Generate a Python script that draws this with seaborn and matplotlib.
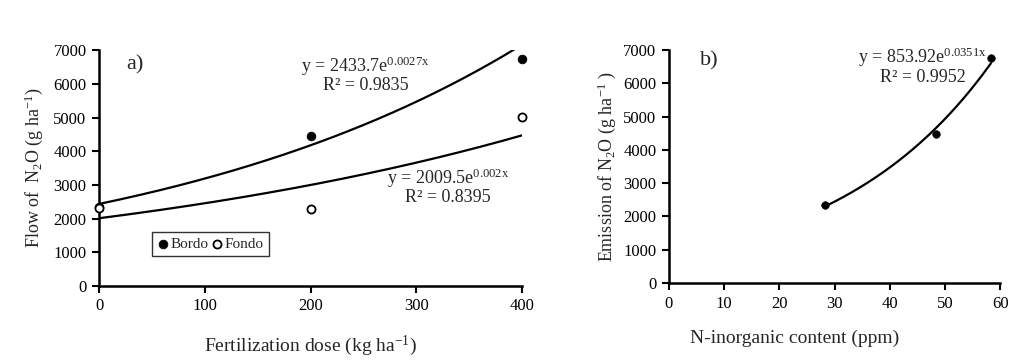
import numpy as np
import pandas as pd
import seaborn as sns
import matplotlib.pyplot as plt

# panel a) data
dose = [0, 200, 400]
bordo = [2350, 4450, 6750]
fondo = [2300, 2280, 5020]
# exponential trend coefficients as printed on the chart
bordo_fit = (2433.7, 0.0027)
fondo_fit = (2009.5, 0.002)

# panel b) data
n_inorg = [28.3, 48.3, 58.3]
emission = [2350, 4480, 6770]
emis_fit = (853.92, 0.0351)

sns.set_style('ticks')
plt.rcParams['font.family'] = ['Liberation Serif', 'DejaVu Serif']
plt.rcParams['mathtext.fontset'] = 'custom'
plt.rcParams['mathtext.rm'] = 'Liberation Serif'
plt.rcParams['mathtext.default'] = 'regular'
plt.rcParams['font.size'] = 12

fig = plt.figure(figsize=(10.26, 3.61), dpi=100)
ax1 = fig.add_axes([0.0965, 0.208, 0.4125, 0.653])
ax2 = fig.add_axes([0.652, 0.216, 0.323, 0.645])


def trend(a, b, x0, x1):
    xs = np.linspace(x0, x1, 200)
    return pd.DataFrame({'x': xs, 'y': a * np.exp(b * xs)})


# ---- panel a
t1 = trend(*bordo_fit, 0, 400)
t2 = trend(*fondo_fit, 0, 400)
sns.lineplot(data=t1, x='x', y='y', ax=ax1, color='black', lw=1.6)
sns.lineplot(data=t2, x='x', y='y', ax=ax1, color='black', lw=1.6)
sns.scatterplot(x=dose, y=bordo, ax=ax1, color='black', s=40, edgecolor='black',
                label='Bordo', zorder=5, clip_on=False)
sns.scatterplot(x=dose, y=fondo, ax=ax1, color='white', s=34, edgecolor='black',
                linewidth=1.3, label='Fondo', zorder=6, clip_on=False)
ax1.set_xlim(0, 400)
ax1.set_ylim(0, 7000)
ax1.set_xticks([0, 100, 200, 300, 400])
ax1.set_yticks(range(0, 7001, 1000))
ax1.set_xlabel('Fertilization dose (kg ha$^{-1}$)', fontsize=14, labelpad=14)
ax1.set_ylabel('Flow of  N$_2$O (g ha$^{-1}$)', fontsize=13, labelpad=6)
leg = ax1.legend(loc='lower left', bbox_to_anchor=(0.125, 0.125), frameon=True,
                 fancybox=False, edgecolor='black', handletextpad=0.05,
                 columnspacing=0.2, ncol=2, borderpad=0.35, fontsize=11,
                 handlelength=0.8, borderaxespad=0)
leg.get_frame().set_linewidth(1.0)
ax1.text(0.064, 0.936, 'a)', transform=ax1.transAxes, fontsize=16, va='center')
ax1.text(0.63, 0.93, 'y = 2433.7e$^{0.0027x}$', transform=ax1.transAxes,
         ha='center', va='center', fontsize=13)
ax1.text(0.63, 0.85, 'R² = 0.9835', transform=ax1.transAxes,
         ha='center', va='center', fontsize=13)
ax1.text(0.825, 0.456, 'y = 2009.5e$^{0.002x}$', transform=ax1.transAxes,
         ha='center', va='center', fontsize=13)
ax1.text(0.825, 0.376, 'R² = 0.8395', transform=ax1.transAxes,
         ha='center', va='center', fontsize=13)

# ---- panel b
t3 = trend(*emis_fit, n_inorg[0], n_inorg[-1])
sns.lineplot(data=t3, x='x', y='y', ax=ax2, color='black', lw=1.6)
sns.scatterplot(x=n_inorg, y=emission, ax=ax2, color='black', s=30,
                edgecolor='black', zorder=5)
ax2.set_xlim(0, 60)
ax2.set_ylim(0, 7000)
ax2.set_xticks(range(0, 61, 10))
ax2.set_yticks(range(0, 7001, 1000))
ax2.set_xlabel('N-inorganic content (ppm)', fontsize=14, labelpad=11)
ax2.xaxis.set_label_coords(0.378, -0.20)
ax2.set_ylabel('Emission of N$_2$O (g ha$^{-1}$ )', fontsize=13, labelpad=4)
ax2.text(0.094, 0.952, 'b)', transform=ax2.transAxes, fontsize=16, va='center')
ax2.text(0.765, 0.97, 'y = 853.92e$^{0.0351x}$', transform=ax2.transAxes,
         ha='center', va='center', fontsize=13)
ax2.text(0.765, 0.882, 'R² = 0.9952', transform=ax2.transAxes,
         ha='center', va='center', fontsize=13)

for ax in (ax1, ax2):
    sns.despine(ax=ax)
    for s in ('left', 'bottom'):
        ax.spines[s].set_linewidth(1.8)
        ax.spines[s].set_color('black')
    ax.tick_params(direction='out', length=5, width=1.5, colors='black',
                   labelsize=12, pad=4)

fig.savefig('out.png', dpi=100)
